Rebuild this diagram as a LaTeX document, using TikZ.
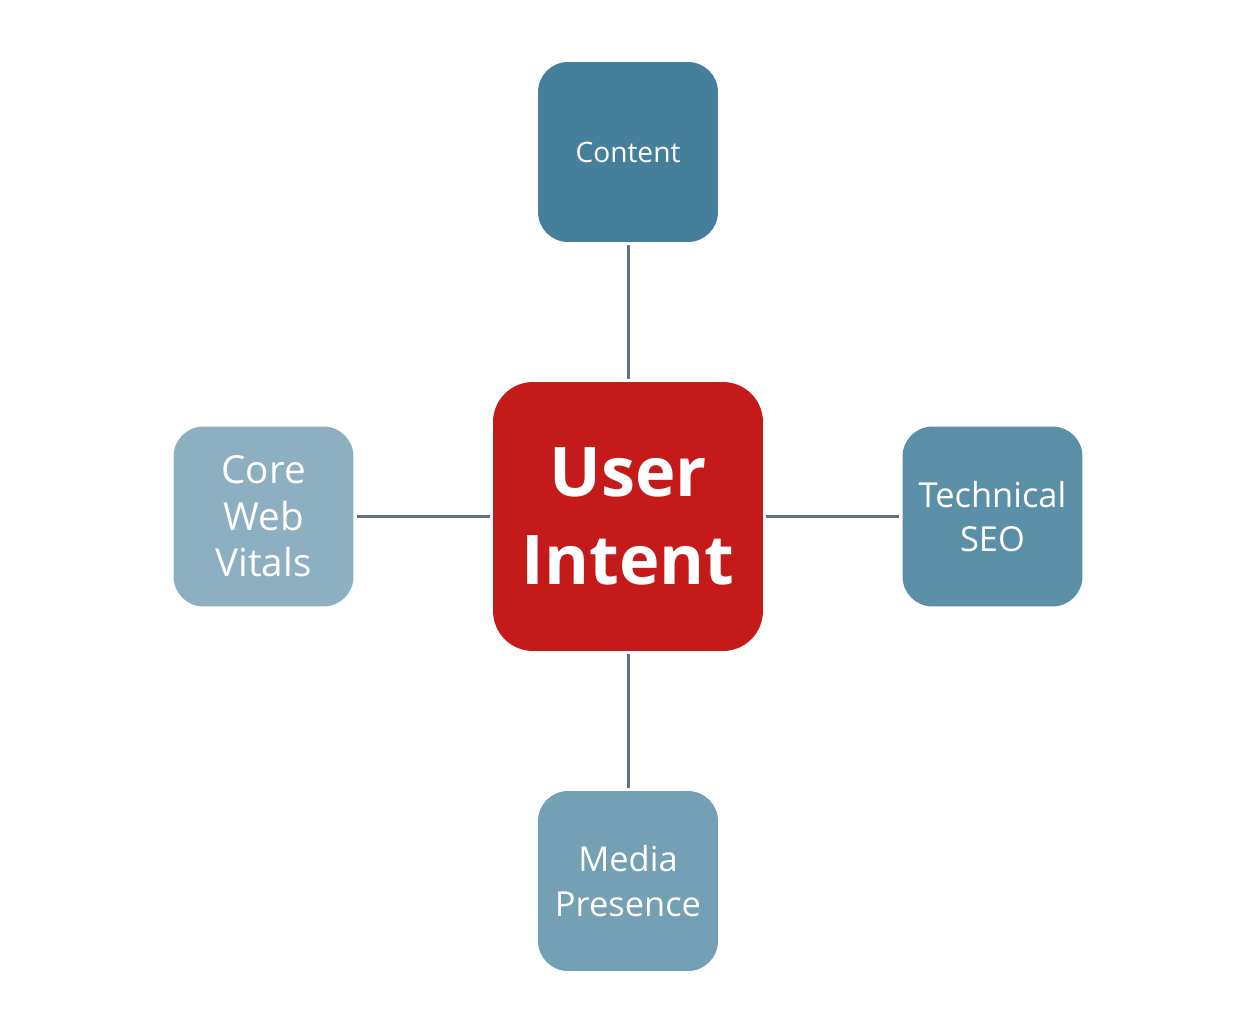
\documentclass[tikz,border=0pt]{standalone}
\usepackage{fontspec}
\setmainfont{Open Sans}
\usetikzlibrary{positioning}

\definecolor{redcore}{HTML}{C41A1A}
\definecolor{bluecontent}{HTML}{457F9C}
\definecolor{bluetech}{HTML}{5B8FA8}
\definecolor{bluemedia}{HTML}{73A0B5}
\definecolor{bluevitals}{HTML}{8CAFC1}
\definecolor{linkgray}{HTML}{5F7282}

\tikzset{
    pillar/.style={rounded corners=0.6cm, minimum width=3.6cm, minimum height=3.6cm,
        text=white, align=center, inner sep=0pt},
    hub/.style={fill=redcore, rounded corners=0.8cm, minimum width=5.4cm, minimum height=5.38cm,
        text=white, align=center, inner sep=0pt, font=\fontsize{39}{50}\selectfont\bfseries},
    link/.style={draw=linkgray, line width=1.7pt, shorten <=0.06cm, shorten >=0.06cm}
}

\begin{document}
\begin{tikzpicture}[x=0.02cm, y=-0.02cm]
        % Rahmen
        \useasboundingbox (0,0) rectangle (1241,1018);

        % --- Mitte ---
        \node[hub] (intent) at (628,516.5) {User\\Intent};

        % --- Saeulen ---
        \node[pillar, fill=bluecontent, font=\fontsize{16}{20}\selectfont] (content) at (628,152) {Content};
        \node[pillar, fill=bluevitals, font=\fontsize{22}{26.5}\selectfont] (vitals) at (263.5,516.5) {Core\\Web\\Vitals};
        \node[pillar, fill=bluetech, font=\fontsize{19.6}{25.5}\selectfont] (tech) at (992.5,516.5) {Technical\\SEO};
        \node[pillar, fill=bluemedia, font=\fontsize{19.6}{26}\selectfont] (media) at (628,881) {Media\\Presence};

        % Verbindungen
        \foreach \n in {content, vitals, tech, media}
            \draw[link] (intent) -- (\n);

    \end{tikzpicture}
\end{document}
